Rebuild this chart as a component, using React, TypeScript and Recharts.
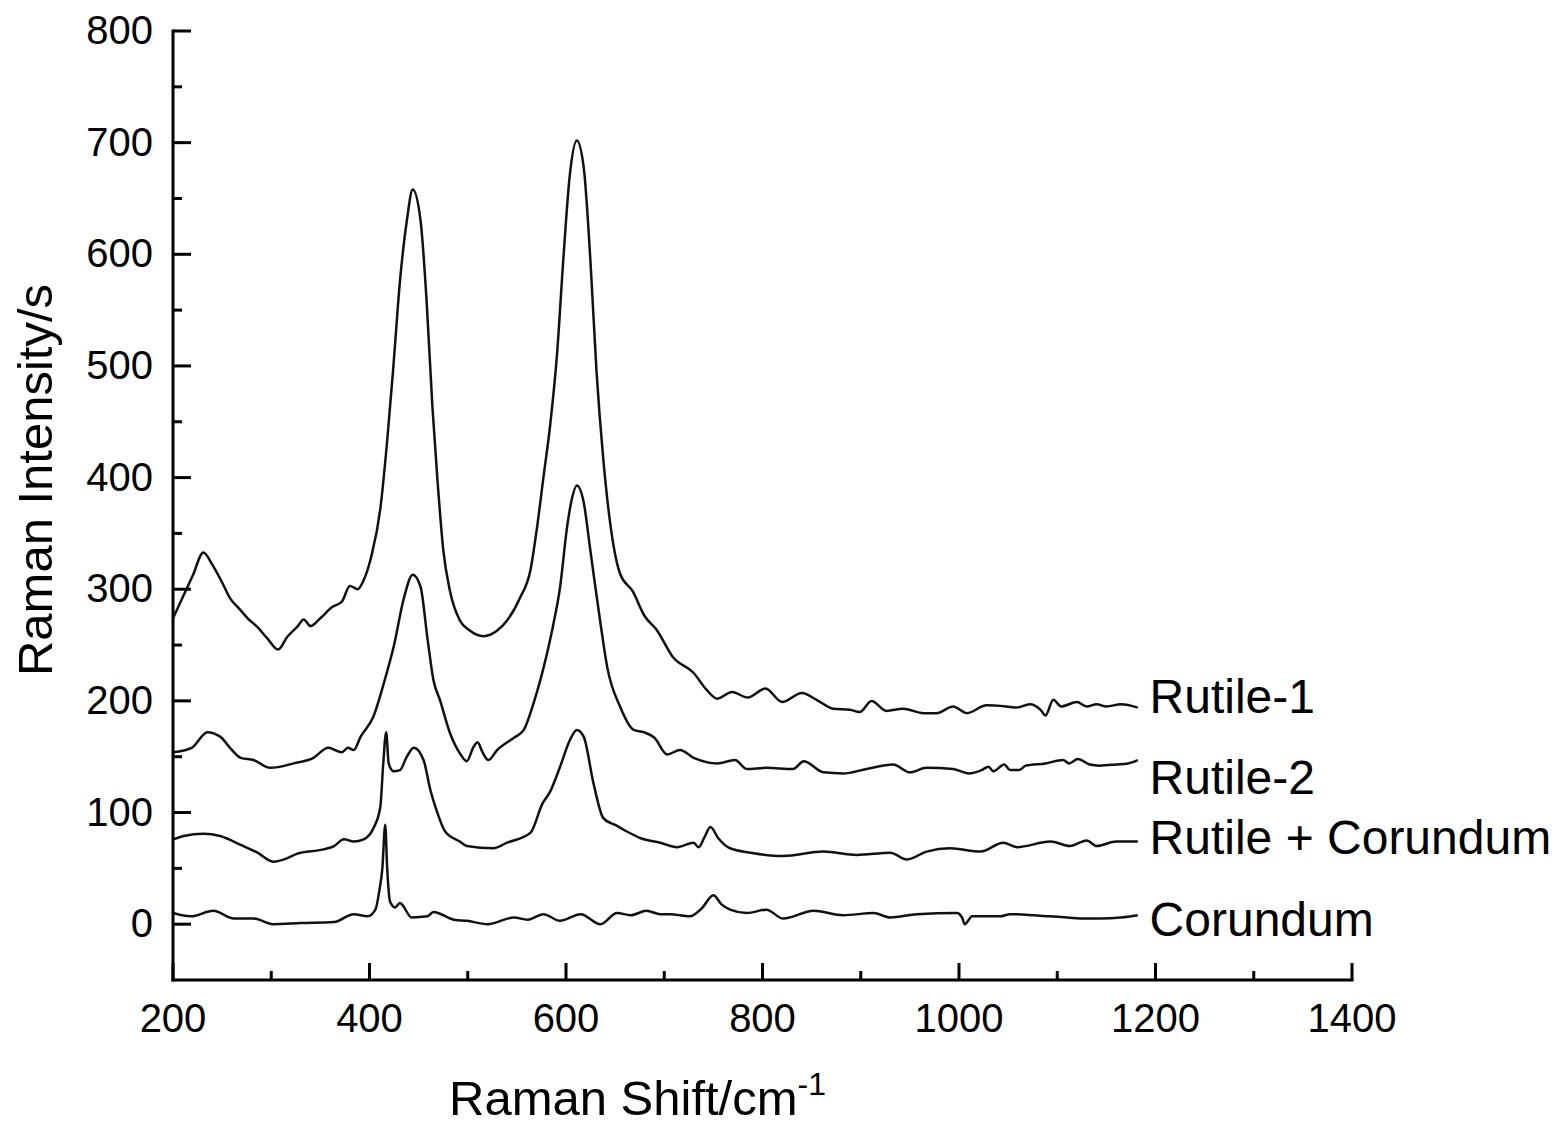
import React from 'react';
import { LineChart, Line, XAxis, YAxis, ReferenceDot } from 'recharts';

const FONT = '"Liberation Sans", Arial, Helvetica, sans-serif';

// Raman shift (cm-1) / intensity pairs
const rutile1: [number, number][] = [
  [200, 274], [210, 293], [220, 312], [231, 333], [240, 322], [250, 306], [258, 292], [268, 282],
  [276, 274], [286, 266], [296, 256], [307, 246], [316, 257], [327, 267], [333, 273], [340, 267],
  [350, 274], [362, 284], [372, 289], [380, 303], [388, 300], [394, 308], [402, 330], [411, 372],
  [418, 433], [424, 496], [431, 576], [438, 630], [444, 658], [452, 630], [458, 560], [464, 464],
  [469, 400], [475, 336], [482, 298], [492, 272], [502, 263], [516, 258], [530, 263], [540, 272],
  [553, 292], [564, 318], [570, 352], [577, 400], [584, 448], [591, 512], [597, 592], [604, 672],
  [611, 702], [618, 678], [625, 592], [631, 496], [638, 416], [645, 359], [655, 314], [668, 298],
  [680, 276], [692, 264], [709, 239], [730, 225], [743, 210], [754, 202], [769, 208], [785, 203],
  [803, 211], [820, 199], [840, 207], [855, 201], [872, 193], [889, 192], [899, 190], [911, 200],
  [926, 191], [943, 193], [964, 189], [977, 189], [994, 195], [1008, 189], [1028, 196], [1048, 195],
  [1059, 194], [1072, 197], [1083, 192], [1088, 187], [1096, 201], [1104, 195], [1120, 199], [1130, 195],
  [1140, 197], [1150, 195], [1165, 197], [1182, 194],
];

const rutile2: [number, number][] = [
  [200, 154], [219, 158], [235, 172], [248, 168], [260, 156], [269, 149], [282, 147], [299, 140],
  [323, 144], [343, 149], [358, 158], [372, 154], [378, 158], [384, 156], [391, 168], [404, 186],
  [414, 214], [425, 250], [435, 292], [444, 313], [452, 302], [459, 256], [465, 219], [472, 200],
  [482, 171], [492, 153], [499, 146], [506, 159], [510, 163], [515, 154], [521, 147], [530, 156],
  [547, 167], [557, 174], [567, 198], [574, 219], [580, 240], [587, 268], [594, 302], [601, 355],
  [606, 381], [611, 393], [618, 378], [624, 340], [628, 314], [635, 270], [642, 230], [655, 195],
  [669, 174], [679, 172], [690, 167], [703, 152], [716, 156], [730, 149], [754, 144], [772, 147],
  [784, 139], [804, 140], [831, 139], [842, 146], [862, 136], [882, 135], [906, 139], [933, 143],
  [950, 136], [967, 140], [994, 139], [1010, 135], [1023, 138], [1030, 141], [1035, 137], [1046, 143],
  [1052, 138], [1061, 138], [1068, 142], [1088, 144], [1106, 147], [1112, 144], [1121, 148], [1133, 143],
  [1143, 142], [1160, 143], [1172, 144], [1182, 147],
];

const rutileCorundum: [number, number][] = [
  [200, 76], [211, 79], [231, 81], [248, 79], [269, 71], [286, 64], [302, 56], [316, 59],
  [326, 63], [353, 67], [364, 70], [374, 76], [384, 74], [394, 76], [404, 86], [411, 105],
  [414, 144], [417, 172], [419.5, 144], [424.5, 137], [431, 138], [438, 150], [445, 158], [455, 147],
  [462, 120], [469, 100], [477, 83], [492, 74], [499, 70], [526, 68], [540, 73], [564, 82],
  [576, 108], [584, 119], [594, 141], [604, 165], [611, 174], [618, 168], [628, 126], [638, 95],
  [652, 88], [662, 83], [676, 77], [696, 73], [713, 69], [730, 73], [735, 69], [741, 78],
  [747, 87], [755, 77], [767, 68], [788, 64], [821, 61], [862, 65], [896, 62], [930, 64],
  [947, 58], [967, 65], [991, 68], [1022, 65], [1045, 73], [1059, 69], [1093, 74], [1113, 70],
  [1130, 75], [1140, 70], [1160, 74], [1182, 74],
];

const corundum: [number, number][] = [
  [200, 10], [218, 7], [241, 12], [262, 5], [282, 5], [302, 0], [330, 1], [364, 2],
  [384, 9], [398, 7], [406, 13], [410, 30], [413, 49], [416, 89], [418, 50], [421, 20],
  [426, 15], [431, 19], [443, 6], [459, 7], [465, 11], [486, 4], [499, 3], [520, 0],
  [547, 6], [561, 4], [577, 9], [594, 3], [615, 9], [635, 0], [652, 10], [666, 8],
  [682, 12], [696, 9], [706, 9], [726, 7], [738, 14], [750, 26], [758, 18], [767, 13],
  [784, 10], [804, 13], [821, 5], [852, 12], [882, 8], [913, 10], [930, 6], [957, 9],
  [998, 10], [1003, 6], [1006, 0], [1010, 4], [1013, 7], [1042, 7], [1052, 9], [1076, 8],
  [1092, 7], [1110, 6], [1128, 5], [1144, 5], [1165, 6], [1182, 8],
];

const xTicks = [200, 300, 400, 500, 600, 700, 800, 900, 1000, 1100, 1200, 1300, 1400];
const yTicks = [0, 50, 100, 150, 200, 250, 300, 350, 400, 450, 500, 550, 600, 650, 700, 750, 800];
const seriesNames = ['Rutile-1', 'Rutile-2', 'Rutile + Corundum', 'Corundum'];
const labelYs = [204, 132, 78, 4.5];
const labelX = 1194;

const seriesData = [rutile1, rutile2, rutileCorundum, corundum].map((pts) =>
  pts.map(([shift, intensity]) => ({ shift, intensity }))
);

const XTick = (props: any) => {
  const { x, y, payload } = props;
  const v = payload.value;
  const major = v % 200 === 0;
  return (
    <g>
      <line x1={x} x2={x} y1={y} y2={y - (major ? 17 : 9)} stroke="#000" strokeWidth={3} />
      {major && (
        <text x={x} y={y + 52} textAnchor="middle" fontSize={40} fontFamily={FONT} fill="#000">
          {v}
        </text>
      )}
    </g>
  );
};

const YTick = (props: any) => {
  const { x, y, payload } = props;
  const v = payload.value;
  const major = v % 100 === 0;
  return (
    <g>
      <line x1={x} x2={x + (major ? 18 : 9)} y1={y} y2={y} stroke="#000" strokeWidth={3} />
      {major && (
        <text x={x - 20} y={y + 13} textAnchor="end" fontSize={40} fontFamily={FONT} fill="#000">
          {v}
        </text>
      )}
    </g>
  );
};

export default function App() {
  return (
    <div style={{ position: 'relative', width: 1560, height: 1118, fontFamily: FONT, background: '#fff' }}>
      <LineChart
        width={1560}
        height={1118}
        margin={{ top: 23, right: 216, bottom: 86, left: 105 }}
        style={{ fontFamily: FONT }}
      >
        <XAxis
          dataKey="shift"
          type="number"
          domain={[200, 1400]}
          ticks={xTicks}
          interval={0}
          allowDataOverflow
          height={60}
          tickSize={0}
          tickMargin={0}
          tickLine={false}
          axisLine={{ stroke: '#000', strokeWidth: 3, strokeLinecap: 'square' }}
          tick={<XTick />}
        />
        <YAxis
          type="number"
          domain={[-50, 800]}
          ticks={yTicks}
          interval={0}
          allowDataOverflow
          width={60}
          tickSize={0}
          tickMargin={0}
          tickLine={false}
          axisLine={{ stroke: '#000', strokeWidth: 3, strokeLinecap: 'square' }}
          tick={<YTick />}
        />
        {seriesData.map((d, i) => (
          <Line
            key={seriesNames[i]}
            data={d}
            dataKey="intensity"
            name={seriesNames[i]}
            type="monotone"
            stroke="#111"
            strokeWidth={2.5}
            dot={false}
            activeDot={false}
            isAnimationActive={false}
          />
        ))}
        {seriesNames.map((name, i) => (
          <ReferenceDot
            key={name}
            x={labelX}
            y={labelYs[i]}
            r={0}
            fill="none"
            stroke="none"
            label={{ value: name, position: 'right', offset: 0, fontSize: 48, fill: '#000', fontFamily: FONT }}
          />
        ))}
      </LineChart>
      <svg
        width={1560}
        height={1118}
        style={{ position: 'absolute', left: 0, top: 0, pointerEvents: 'none' }}
      >
        <text x={441} y={1107} fontSize={49} fontFamily={FONT} fill="#000">
          Raman Shift/cm
          <tspan fontSize={32} dy={-20}>-1</tspan>
        </text>
        <text
          x={44}
          y={472}
          fontSize={49}
          fontFamily={FONT}
          fill="#000"
          textAnchor="middle"
          transform="rotate(-90, 44, 472)"
        >
          Raman Intensity/s
        </text>
      </svg>
    </div>
  );
}
